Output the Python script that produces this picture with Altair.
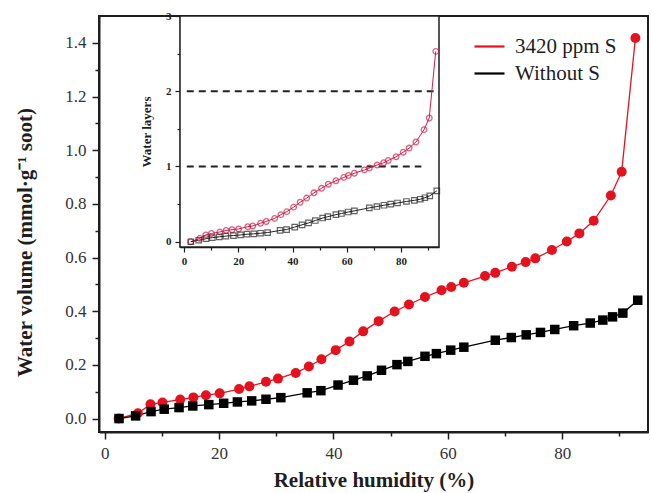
import altair as alt
import pandas as pd

S_NAME = "3420 ppm S"
N_NAME = "Without S"

# Main panel: relative humidity (%) and water volume (mmol/g soot)
rh_s = [2.45, 5.8, 8.0, 10.1, 13.2, 15.5, 17.7, 20.1, 23.5, 25.3, 28.2, 30.3, 33.4, 35.7,
        37.9, 40.4, 42.8, 45.2, 47.9, 50.7, 53.2, 56.0, 58.9, 60.6, 62.8, 66.5, 68.3, 71.2,
        73.6, 75.3, 78.2, 80.8, 83.0, 85.5, 88.5, 90.4, 92.8]
vol_s = [0.0, 0.02, 0.053, 0.06, 0.071, 0.079, 0.087, 0.094, 0.11, 0.12, 0.137, 0.149, 0.17,
         0.194, 0.221, 0.255, 0.287, 0.325, 0.363, 0.399, 0.425, 0.453, 0.478, 0.49, 0.506,
         0.531, 0.543, 0.566, 0.583, 0.597, 0.628, 0.66, 0.69, 0.737, 0.831, 0.92, 1.418]
rh_0 = [2.5, 5.4, 8.1, 10.4, 13.0, 15.4, 18.2, 20.8, 23.2, 25.7, 28.2, 30.8, 35.4, 37.8,
        40.8, 43.5, 45.9, 48.4, 51.1, 53.0, 56.0, 58.0, 60.5, 62.8, 68.3, 71.1, 73.7, 76.2,
        78.7, 82.0, 84.9, 87.1, 88.8, 90.6, 93.2]
vol_0 = [0.0, 0.01, 0.026, 0.035, 0.041, 0.047, 0.052, 0.057, 0.062, 0.066, 0.072, 0.078,
         0.096, 0.104, 0.125, 0.143, 0.159, 0.18, 0.201, 0.213, 0.232, 0.242, 0.255, 0.266,
         0.292, 0.302, 0.312, 0.321, 0.332, 0.346, 0.356, 0.367, 0.379, 0.393, 0.441]

# Inset: water layers
layers_s = [0.0, 0.045, 0.09, 0.11, 0.13, 0.15, 0.16, 0.17, 0.2, 0.21, 0.245, 0.27, 0.31,
            0.36, 0.4, 0.46, 0.525, 0.58, 0.65, 0.71, 0.765, 0.81, 0.855, 0.88, 0.91, 0.955,
            0.98, 1.02, 1.05, 1.08, 1.13, 1.19, 1.245, 1.325, 1.49, 1.645, 2.53]
layers_0 = [0.0, 0.02, 0.04, 0.055, 0.065, 0.075, 0.082, 0.09, 0.1, 0.105, 0.113, 0.122,
            0.15, 0.162, 0.195, 0.225, 0.25, 0.282, 0.315, 0.333, 0.36, 0.375, 0.395, 0.41,
            0.45, 0.468, 0.485, 0.5, 0.515, 0.535, 0.55, 0.565, 0.585, 0.61, 0.676]

dash_level = [1, 2]
dash_start = [1, 1]
dash_end = [87.5, 92]

series = [S_NAME] * len(rh_s) + [N_NAME] * len(rh_0)
main_df = pd.DataFrame({"rh": rh_s + rh_0, "vol": vol_s + vol_0, "series": series})
inset_df = pd.DataFrame({"rh": rh_s + rh_0, "layers": layers_s + layers_0, "series": series})
dash_df = pd.DataFrame({"rh": dash_start, "rh2": dash_end, "layers": dash_level})
frame_df = pd.DataFrame({"rh": [-1.5], "rh2": [94], "layers": [-0.07], "layers2": [3]})

SERIF = "Liberation Serif"
INK = "#1e1e1e"
RED = "#e3121e"
CRIMSON = "#d41c48"

W, H = 549, 416

# ---------- main panel ----------
x_main = alt.X(
    "rh:Q",
    scale=alt.Scale(domain=[-1, 95], nice=False, zero=False),
    axis=alt.Axis(
        values=list(range(0, 100, 10)),
        labelExpr="datum.value % 20 === 0 ? datum.label : ''",
        tickSize={"condition": {"test": "datum.value % 20 === 0", "value": 7}, "value": 4},
        title="Relative humidity (%)", grid=False,
        labelFont=SERIF, labelFontSize=17, labelColor="#333", labelPadding=6,
        titleFont=SERIF, titleFontSize=21, titleFontWeight="bold", titleColor=INK,
        titlePadding=8,
        domainColor=INK, domainWidth=2, tickColor=INK, tickWidth=1.5,
    ),
)
y_main = alt.Y(
    "vol:Q",
    scale=alt.Scale(domain=[-0.05, 1.5], nice=False, zero=False),
    axis=alt.Axis(
        values=[round(i * 0.1, 1) for i in range(15)],
        labelExpr="round(datum.value * 10) % 2 === 0 ? format(datum.value, '.1f') : ''",
        tickSize={"condition": {"test": "round(datum.value * 10) % 2 === 0", "value": 7}, "value": 4},
        title="Water volume (mmol·g⁻¹ soot)", grid=False,
        labelFont=SERIF, labelFontSize=17, labelColor="#333", labelPadding=6,
        titleFont=SERIF, titleFontSize=21, titleFontWeight="bold", titleColor=INK,
        titleX=-74, titleY=226, titleAngle=270, titleAlign="center", titleBaseline="middle",
        domainColor=INK, domainWidth=2, tickColor=INK, tickWidth=1.5,
    ),
)
color_main = alt.Color(
    "series:N",
    scale=alt.Scale(domain=[S_NAME, N_NAME], range=[RED, "#000000"]),
    legend=alt.Legend(
        title=None, orient="none", legendX=374, legendY=14, symbolType="stroke",
        symbolSize=900, symbolStrokeWidth=2.2, labelFont="Times New Roman", labelFontSize=21,
        labelColor=INK, labelOffset=9, rowPadding=-4, padding=0,
    ),
)

main_base = alt.Chart(main_df).encode(x=x_main, y=y_main, color=color_main)
main_lines = main_base.mark_line(strokeWidth=1.3)
main_circles = main_base.mark_circle(size=100, opacity=1).transform_filter(
    alt.datum.series == S_NAME)
main_squares = main_base.mark_square(size=90, opacity=1).transform_filter(
    alt.datum.series == N_NAME)
main_layer = alt.layer(main_lines, main_circles, main_squares)

# ---------- inset ----------
INSET_LEFT, INSET_RIGHT, INSET_BOTTOM = 81, 340, 231
x_in_scale = alt.Scale(domain=[-1.5, 94], nice=False, zero=False, range=[INSET_LEFT, INSET_RIGHT])
y_in_scale = alt.Scale(domain=[-0.07, 3], nice=False, zero=False, range=[INSET_BOTTOM, 0])
x_in_axis = alt.Axis(
    orient="bottom", offset=-(H - INSET_BOTTOM),
    values=list(range(0, 100, 10)),
    labelExpr="datum.value % 20 === 0 ? datum.label : ''",
    tickSize={"condition": {"test": "datum.value % 20 === 0", "value": 5}, "value": 3},
    title=None, grid=False, labelFont=SERIF, labelFontSize=11, labelFontWeight="bold",
    labelColor=INK, labelPadding=3, domainColor=INK, domainWidth=1.5, tickColor=INK, tickWidth=1.2,
)
y_in_axis = alt.Axis(
    orient="left", offset=-INSET_LEFT,
    values=[0, 0.5, 1, 1.5, 2, 2.5, 3],
    labelExpr="datum.value % 1 === 0 ? format(datum.value, 'd') : ''",
    tickSize={"condition": {"test": "datum.value % 1 === 0", "value": 5}, "value": 3},
    title="Water layers", grid=False, labelFont=SERIF, labelFontSize=11, labelFontWeight="bold",
    labelColor=INK, labelPadding=4, titleFont=SERIF, titleFontSize=13, titleFontWeight="bold",
    titleColor=INK, titlePadding=12, domainColor=INK, domainWidth=1.5, tickColor=INK, tickWidth=1.2,
)
x_in = alt.X("rh:Q", scale=x_in_scale, axis=x_in_axis)
y_in = alt.Y("layers:Q", scale=y_in_scale, axis=y_in_axis)
stroke_in = alt.Stroke("series:N", scale=alt.Scale(domain=[S_NAME, N_NAME], range=[CRIMSON, "#222222"]),
                       legend=None)

in_frame = alt.Chart(frame_df).mark_rect(fill="white", stroke=INK, strokeWidth=1.5).encode(
    x=x_in, x2="rh2:Q", y=y_in, y2="layers2:Q")
in_dash = alt.Chart(dash_df).mark_rule(strokeDash=[7, 5], strokeWidth=2, color="#222").encode(
    x=x_in, x2="rh2:Q", y=y_in)
in_base = alt.Chart(inset_df).encode(x=x_in, y=y_in, stroke=stroke_in)
in_lines = in_base.mark_line(strokeWidth=1)
in_circles = in_base.mark_point(shape="circle", filled=False, size=32, strokeWidth=1.3).transform_filter(
    alt.datum.series == S_NAME)
in_squares = in_base.mark_point(shape="square", filled=False, size=30, strokeWidth=1.2).transform_filter(
    alt.datum.series == N_NAME)
inset_layer = alt.layer(in_frame, in_dash, in_lines, in_circles, in_squares)

chart = alt.layer(main_layer, inset_layer).resolve_scale(
    x="independent", y="independent"
).properties(
    width=W, height=H,
    padding={"left": 99, "top": 16, "right": 3, "bottom": 61},
    autosize=alt.AutoSizeParams(type="none"),
    background="white",
).configure(font=SERIF).configure_view(stroke=INK, strokeWidth=2).configure_legend(
    labelFontSize=21, labelColor=INK
)

chart.save("out.html", embed_options={"renderer": "svg", "actions": False})
